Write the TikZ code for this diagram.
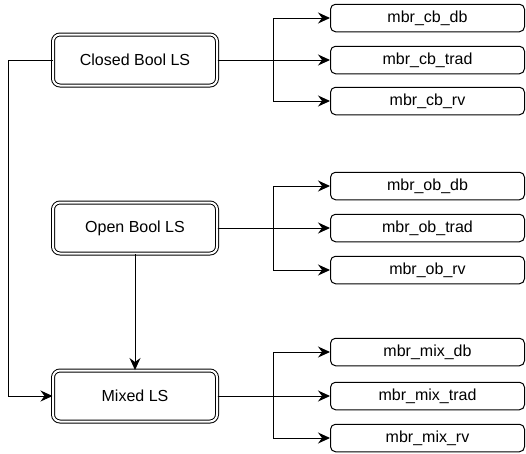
\documentclass[tikz,border=0pt]{standalone}
\usepackage{fontspec}
\setmainfont{Liberation Sans}
\usetikzlibrary{arrows.meta}
\begin{document}
\begin{tikzpicture}[x=1pt,y=-1pt,
  bigbox/.style={draw, line width=1pt, double, double distance=2pt, rounded corners=7pt,
    minimum width=164pt, minimum height=51pt, inner sep=0pt, fill=white,
    font=\fontsize{16}{19}\selectfont},
  smallbox/.style={draw, line width=1pt, rounded corners=5pt, minimum width=194pt,
    minimum height=27.5pt, inner sep=0pt, font=\fontsize{16}{19}\selectfont},
  conn/.style={line width=0.95pt},
  arr/.style={conn, -{Stealth[length=12pt,width=11pt,inset=4pt]}}]
\useasboundingbox (0,0) rectangle (526,453);
% big boxes
\node[bigbox] (cb) at (135,60) {Closed Bool LS};
\node[bigbox] (ob) at (135,228) {Open Bool LS};
\node[bigbox] (mx) at (135,396) {Mixed LS};
% small boxes
\node[smallbox] (cbdb) at (427.5,18) {mbr\_cb\_db};
\node[smallbox] (cbtr) at (427.5,60) {mbr\_cb\_trad};
\node[smallbox] (cbrv) at (427.5,101) {mbr\_cb\_rv};
\node[smallbox] (obdb) at (427.5,186) {mbr\_ob\_db};
\node[smallbox] (obtr) at (427.5,228) {mbr\_ob\_trad};
\node[smallbox] (obrv) at (427.5,270) {mbr\_ob\_rv};
\node[smallbox] (mxdb) at (427.5,352) {mbr\_mix\_db};
\node[smallbox] (mxtr) at (427.5,396) {mbr\_mix\_trad};
\node[smallbox] (mxrv) at (427.5,438) {mbr\_mix\_rv};
% branches
\foreach \s/\a/\b/\c in {cb/cbdb/cbtr/cbrv, ob/obdb/obtr/obrv, mx/mxdb/mxtr/mxrv}{
  \draw[arr] (\s.east) -- (\b.west);
  \draw[arr] (\s.east) -- ++(56,0) |- (\a.west);
  \draw[arr] (\s.east) -- ++(56,0) |- (\c.west);
}
% left loop and vertical
\coordinate (lft) at (8,60);
\draw[arr] (cb.west) -- (lft) |- (mx.west);
\draw[arr] (ob.south) -- (mx.north);
\end{tikzpicture}
\end{document}
